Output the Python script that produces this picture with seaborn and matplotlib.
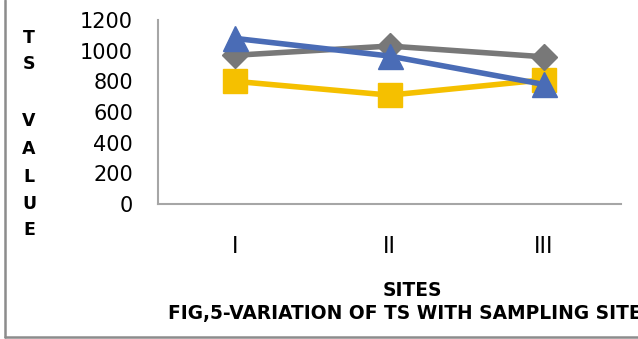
import matplotlib
matplotlib.use("Agg")
import matplotlib.pyplot as plt
from matplotlib.lines import Line2D
import seaborn as sns
import pandas as pd

sites = ["I", "II", "III"]
series_a = [800, 710, 810]    # yellow, squares
series_b = [970, 1030, 960]   # gray, diamonds
series_c = [1080, 965, 780]   # blue, triangles
y_ticks = [0, 200, 400, 600, 800, 1000, 1200]

sns.set_theme(style="white")
plt.rcParams["font.family"] = ["DejaVu Sans"]

fig = plt.figure(figsize=(6.38, 3.39), dpi=100)
ax = fig.add_axes([158 / 638, 1 - 204 / 339, 463 / 638, (204 - 20) / 339])

styles = [
    (series_a, "#F5C000", "s", 17),
    (series_b, "#787878", "D", 13.5),
    (series_c, "#4A6CB6", "^", 18),
]
for vals, color, mk, ms in styles:
    df = pd.DataFrame({"site": sites, "value": vals})
    sns.lineplot(data=df, x="site", y="value", ax=ax, color=color,
                 linewidth=4, marker=mk, markersize=ms,
                 markeredgecolor=color, markeredgewidth=1, sort=False)

ax.set_xlim(-0.5, 2.5)
ax.set_ylim(0, 1200)
ax.set_yticks(y_ticks)
ax.set_yticklabels([str(v) for v in y_ticks], fontsize=15, color="black")
ax.tick_params(axis="y", length=0, pad=18)
ax.set_xticks(range(len(sites)))
ax.set_xticklabels(sites, fontsize=17, family="Liberation Sans", color="black")
ax.tick_params(axis="x", length=0, pad=23)
ax.set_xlabel("")
ax.set_ylabel("")
for side in ["top", "right"]:
    ax.spines[side].set_visible(False)
for side in ["left", "bottom"]:
    ax.spines[side].set_color("#A6A6A6")
    ax.spines[side].set_linewidth(1.5)
ax.grid(False)

# vertical stacked axis title
letters = ["T", "S", "V", "A", "L", "U", "E"]
ys = [38, 64, 121, 149, 177, 204, 230]
for ch, y in zip(letters, ys):
    fig.text(29 / 638, 1 - y / 339, ch, ha="center", va="center",
             fontsize=12.5, fontweight="bold", color="black")

fig.text(412 / 638, 1 - 290 / 339, "SITES", ha="center", va="center",
         fontsize=13.4, fontweight="bold", color="black")
fig.text(168 / 638, 1 - 314 / 339, "FIG,5-VARIATION OF TS WITH SAMPLING SITES",
         ha="left", va="center", fontsize=13.4, fontweight="bold", color="black")

# chart area frame
fig.add_artist(Line2D([5 / 638, 5 / 638], [1 - 337 / 339, 1.0],
                      transform=fig.transFigure, color="#8C8C8C", linewidth=1.8))
fig.add_artist(Line2D([5 / 638, 1.0], [1 - 337 / 339, 1 - 337 / 339],
                      transform=fig.transFigure, color="#8C8C8C", linewidth=1.8))

fig.savefig("out.png", dpi=100)
